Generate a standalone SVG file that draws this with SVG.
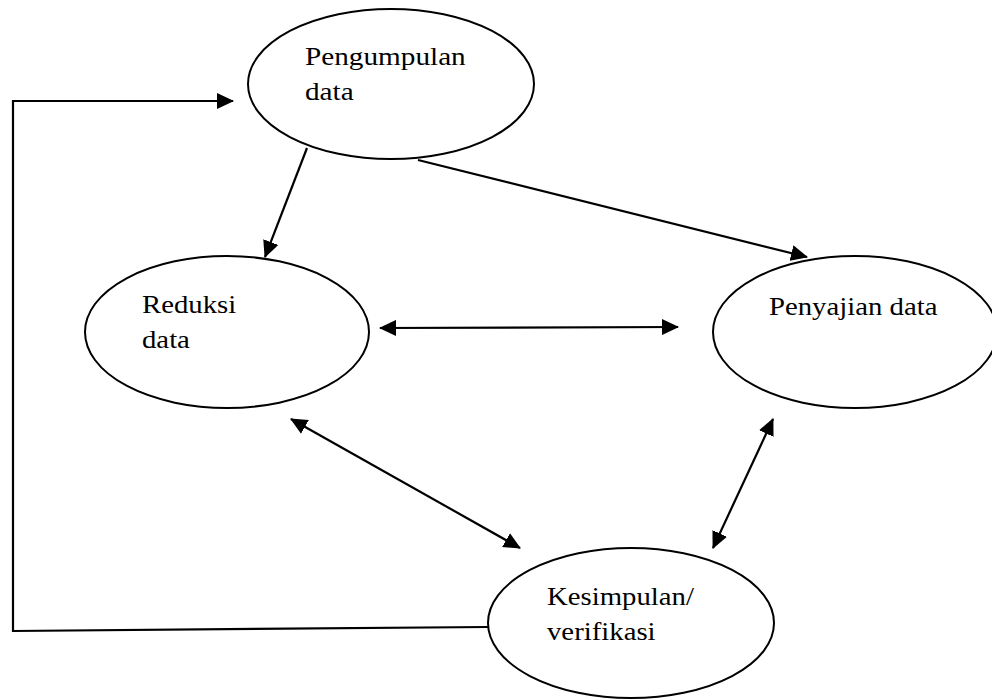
<svg xmlns="http://www.w3.org/2000/svg" width="992" height="700" viewBox="0 0 992 700">
  <defs>
    <marker id="ah" markerUnits="userSpaceOnUse" markerWidth="17" markerHeight="16" refX="16" refY="8" orient="auto-start-reverse" viewBox="0 0 17 16">
      <path d="M0,0 L17,8 L0,16 z" fill="#000"/>
    </marker>
  </defs>
  <style>
    .node { fill: #fff; stroke: #000; stroke-width: 2; }
    .lbl { font-family: "Liberation Serif", "Times New Roman", serif; font-size: 25px; fill: #000; }
    .conn { fill: none; stroke: #000; stroke-width: 2.2; }
  </style>
  <rect width="992" height="700" fill="#fff"/>
  <g id="n-pengumpulan">
    <ellipse class="node" cx="391" cy="84" rx="143" ry="75"/>
    <text class="lbl" transform="translate(305,65) scale(1.17,1)">Pengumpulan</text>
    <text class="lbl" transform="translate(305,100) scale(1.17,1)">data</text>
  </g>
  <g id="n-reduksi">
    <ellipse class="node" cx="227" cy="332" rx="142" ry="76"/>
    <text class="lbl" transform="translate(142,313) scale(1.15,1)">Reduksi</text>
    <text class="lbl" transform="translate(142,348) scale(1.15,1)">data</text>
  </g>
  <g id="n-penyajian">
    <ellipse class="node" cx="855" cy="332" rx="142" ry="76"/>
    <text class="lbl" transform="translate(769,315) scale(1.15,1)">Penyajian data</text>
  </g>
  <g id="n-kesimpulan">
    <ellipse class="node" cx="631" cy="623" rx="143" ry="75"/>
    <text class="lbl" transform="translate(547,605) scale(1.15,1)">Kesimpulan/</text>
    <text class="lbl" transform="translate(547,640) scale(1.15,1)">verifikasi</text>
  </g>
  <g id="connectors">
    <path class="conn" d="M307,148 L265,257" marker-end="url(#ah)"/>
    <path class="conn" d="M418,160 L807,257" marker-end="url(#ah)"/>
    <path class="conn" d="M380,328 L678,327" marker-start="url(#ah)" marker-end="url(#ah)"/>
    <path class="conn" d="M291,419 L520,548" marker-start="url(#ah)" marker-end="url(#ah)"/>
    <path class="conn" d="M773,419 L713,548" marker-start="url(#ah)" marker-end="url(#ah)"/>
    <path class="conn" d="M488,627 L13,631 L13,101 L233,101" marker-end="url(#ah)"/>
  </g>
</svg>
